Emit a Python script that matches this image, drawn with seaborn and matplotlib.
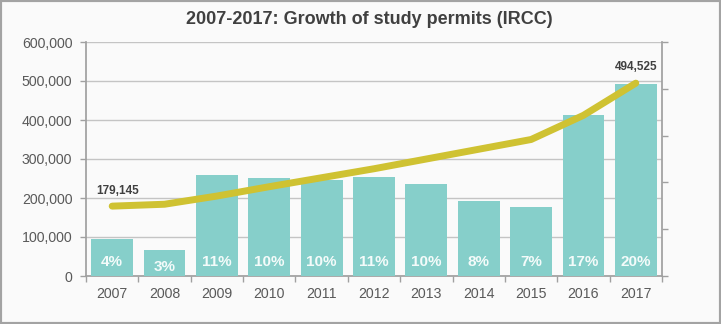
import matplotlib
matplotlib.use("Agg")
import matplotlib.pyplot as plt
from matplotlib.patches import Rectangle
import seaborn as sns
import pandas as pd

# ---- data ----
years = ["2007", "2008", "2009", "2010", "2011", "2012", "2013", "2014", "2015", "2016", "2017"]
permits = [179145, 184000, 205000, 229000, 252000, 275000, 300000, 325000, 350000, 412000, 494525]
growth_bar = [3.95, 2.8, 10.8, 10.45, 10.25, 10.6, 9.8, 8.0, 7.35, 17.2, 20.5]
growth_label = ["4%", "3%", "11%", "10%", "10%", "11%", "10%", "8%", "7%", "17%", "20%"]
left_ticks = [0, 100000, 200000, 300000, 400000, 500000, 600000]
right_ticks = [0, 5, 10, 15, 20, 25]
title = "2007-2017: Growth of study permits (IRCC)"

df = pd.DataFrame({"year": years, "permits": permits, "growth": growth_bar, "label": growth_label})

sns.set_theme(style="white")
plt.rcParams["font.family"] = ["Liberation Sans", "DejaVu Sans"]

BG = "#fafafa"
BAR = "#86cfca"
LINE = "#cfc232"
GRID = "#c4c4c4"
SPINE = "#a0a0a0"
TXT = "#595959"
DARK = "#404040"

fig = plt.figure(figsize=(7.21, 3.24), dpi=100, facecolor=BG)
W, H = 721, 324
rect = [86 / W, 1 - 276 / H, (662 - 86) / W, (276 - 42) / H]
ax = fig.add_axes(rect, facecolor=BG)

# bars on a twin (right) axis
axb = ax.twinx()
sns.barplot(data=df, x="year", y="growth", ax=axb, color=BAR, width=0.8,
            saturation=1, edgecolor="none")
axb.set_ylim(0, 25)
axb.set_yticks(right_ticks)
axb.set_yticklabels([])
axb.set_ylabel("")
axb.set_xlabel("")
axb.tick_params(axis="y", right=True, length=4, color=SPINE, width=1, direction="out")
for i, lab in enumerate(df["label"]):
    yl = 1.0 if i == 1 else 1.5
    axb.text(i, yl, lab, ha="center", va="center", color="#f4fbfa",
             fontsize=11, fontweight="bold")

# line on another twin sharing the left scale
axl = ax.twinx()
sns.lineplot(data=df, x="year", y="permits", ax=axl, color=LINE, linewidth=5,
             solid_capstyle="round", solid_joinstyle="round", sort=False)
axl.set_ylim(0, 600000)
axl.set_yticks([])
axl.set_ylabel("")
axl.set_xlabel("")
for s in axl.spines.values():
    s.set_visible(False)
axl.annotate(f"{permits[0]:,}", (0, permits[0]), xytext=(4, 11), textcoords="offset points",
             ha="center", va="center", fontsize=8.5, fontweight="bold", color=DARK)
axl.annotate(f"{permits[-1]:,}", (len(years) - 1, permits[-1]), xytext=(0, 11.5),
             textcoords="offset points", ha="center", va="center",
             fontsize=8.5, fontweight="bold", color=DARK)

# primary axis: left scale + grid
ax.set_ylim(0, 600000)
ax.set_yticks(left_ticks)
ax.set_yticklabels([f"{v:,}" for v in left_ticks], fontsize=10.2, color=TXT)
ax.yaxis.grid(True, color=GRID, linewidth=1)
ax.xaxis.grid(False)
ax.tick_params(axis="y", left=True, length=4.3, color=SPINE, width=1, direction="out", pad=5.5)
ax.set_xlim(-0.5, len(years) - 0.5)
axb.set_xlim(-0.5, len(years) - 0.5)

# x ticks: labels at category centres, tick marks at boundaries
ax.set_xticks(range(len(years)))
ax.set_xticklabels(years, fontsize=10.2, color=TXT)
ax.set_xticks([i - 0.5 for i in range(len(years) + 1)], minor=True)
ax.tick_params(axis="x", which="major", length=0, pad=8)
ax.tick_params(axis="x", which="minor", bottom=True, length=4.5, color=SPINE, width=1, direction="out")
axb.tick_params(axis="x", which="both", bottom=False, labelbottom=False)
axl.tick_params(axis="x", which="both", bottom=False, labelbottom=False)

for a in (ax, axb):
    a.spines["top"].set_visible(False)
    a.spines["left"].set_color(SPINE)
    a.spines["right"].set_color(SPINE)
    a.spines["bottom"].set_color(SPINE)
axb.spines["left"].set_visible(False)
axb.spines["bottom"].set_visible(False)
ax.spines["right"].set_visible(False)

fig.text(0.512, 1 - 20 / H, title, ha="center", va="center", fontsize=13,
         fontweight="bold", color=DARK)

fig.patches.append(Rectangle((0, 0), 1, 1, transform=fig.transFigure, fill=False,
                             edgecolor="#a3a3a3", linewidth=3, zorder=10))

fig.savefig("out.png", dpi=100, facecolor=BG)
